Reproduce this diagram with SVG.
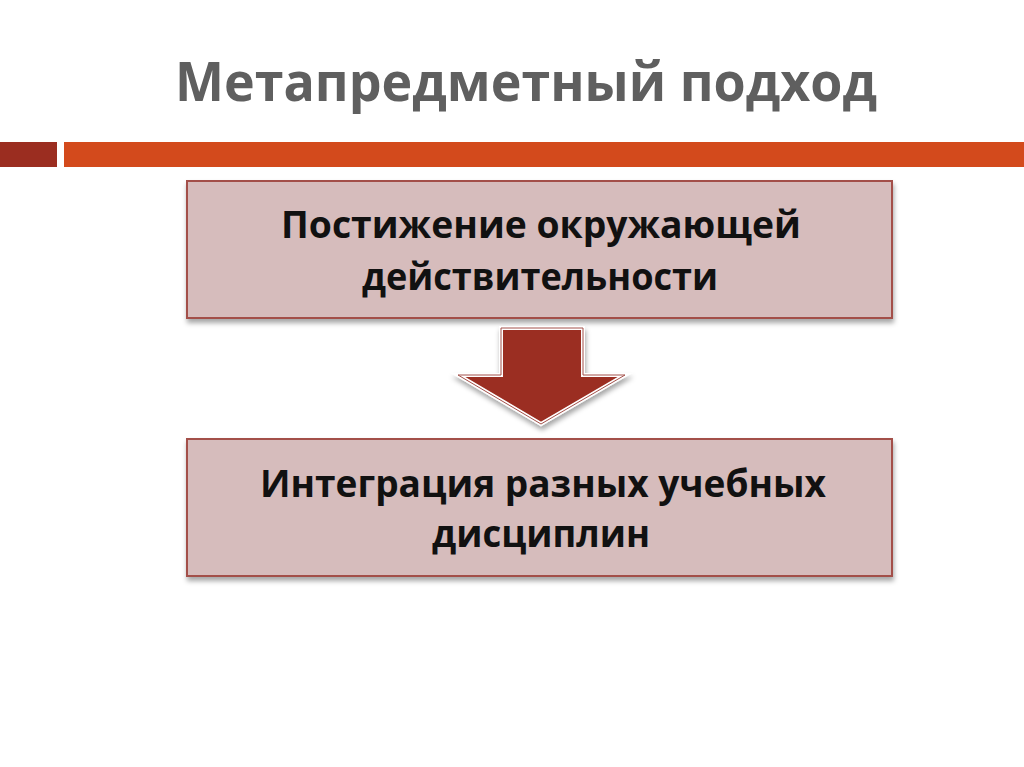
<svg xmlns="http://www.w3.org/2000/svg" width="1024" height="767" viewBox="0 0 1024 767">
<defs>
<style>
.title{font-family:"Open Sans","Liberation Sans",sans-serif;font-weight:bold;font-size:53px;fill:#5f5f5f;text-anchor:middle}
.lbl{font-family:"Open Sans","Liberation Sans",sans-serif;font-weight:bold;font-size:38px;fill:#111111;text-anchor:middle}
.box{fill:#d6bcbc;stroke:#a3504a;stroke-width:2}
</style>
<filter id="sh" x="-10%" y="-10%" width="120%" height="130%">
<feDropShadow dx="1" dy="4" stdDeviation="2.5" flood-color="#000" flood-opacity="0.35"/>
</filter>
</defs>
<rect width="1024" height="767" fill="#ffffff"/>
<text class="title" x="526" y="101" textLength="702" lengthAdjust="spacingAndGlyphs">Метапредметный подход</text>
<rect x="0" y="142" width="57" height="25" fill="#9b2d20"/>
<rect x="64" y="142" width="960" height="25" fill="#d34a1c"/>
<g id="node1">
<rect class="box" x="187" y="181" width="705" height="137" filter="url(#sh)"/>
<text class="lbl" x="541" y="238" textLength="520" lengthAdjust="spacingAndGlyphs">Постижение окружающей</text>
<text class="lbl" x="540" y="290" textLength="356" lengthAdjust="spacingAndGlyphs">действительности</text>
</g>
<g id="connectors">
<polygon points="501,328 583,328 583,375 625,375 541,424 458,375 501,375" fill="#9b2d20" stroke="#ffffff" stroke-width="4" stroke-linejoin="miter" filter="url(#sh)"/>
<polygon points="501,328 583,328 583,375 625,375 541,424 458,375 501,375" fill="none" stroke="#a3504a" stroke-width="1"/>
</g>
<g id="node2">
<rect class="box" x="187" y="439" width="705" height="137" filter="url(#sh)"/>
<text class="lbl" x="543" y="497" textLength="566" lengthAdjust="spacingAndGlyphs">Интеграция разных учебных</text>
<text class="lbl" x="541" y="547" textLength="218" lengthAdjust="spacingAndGlyphs">дисциплин</text>
</g>
</svg>
